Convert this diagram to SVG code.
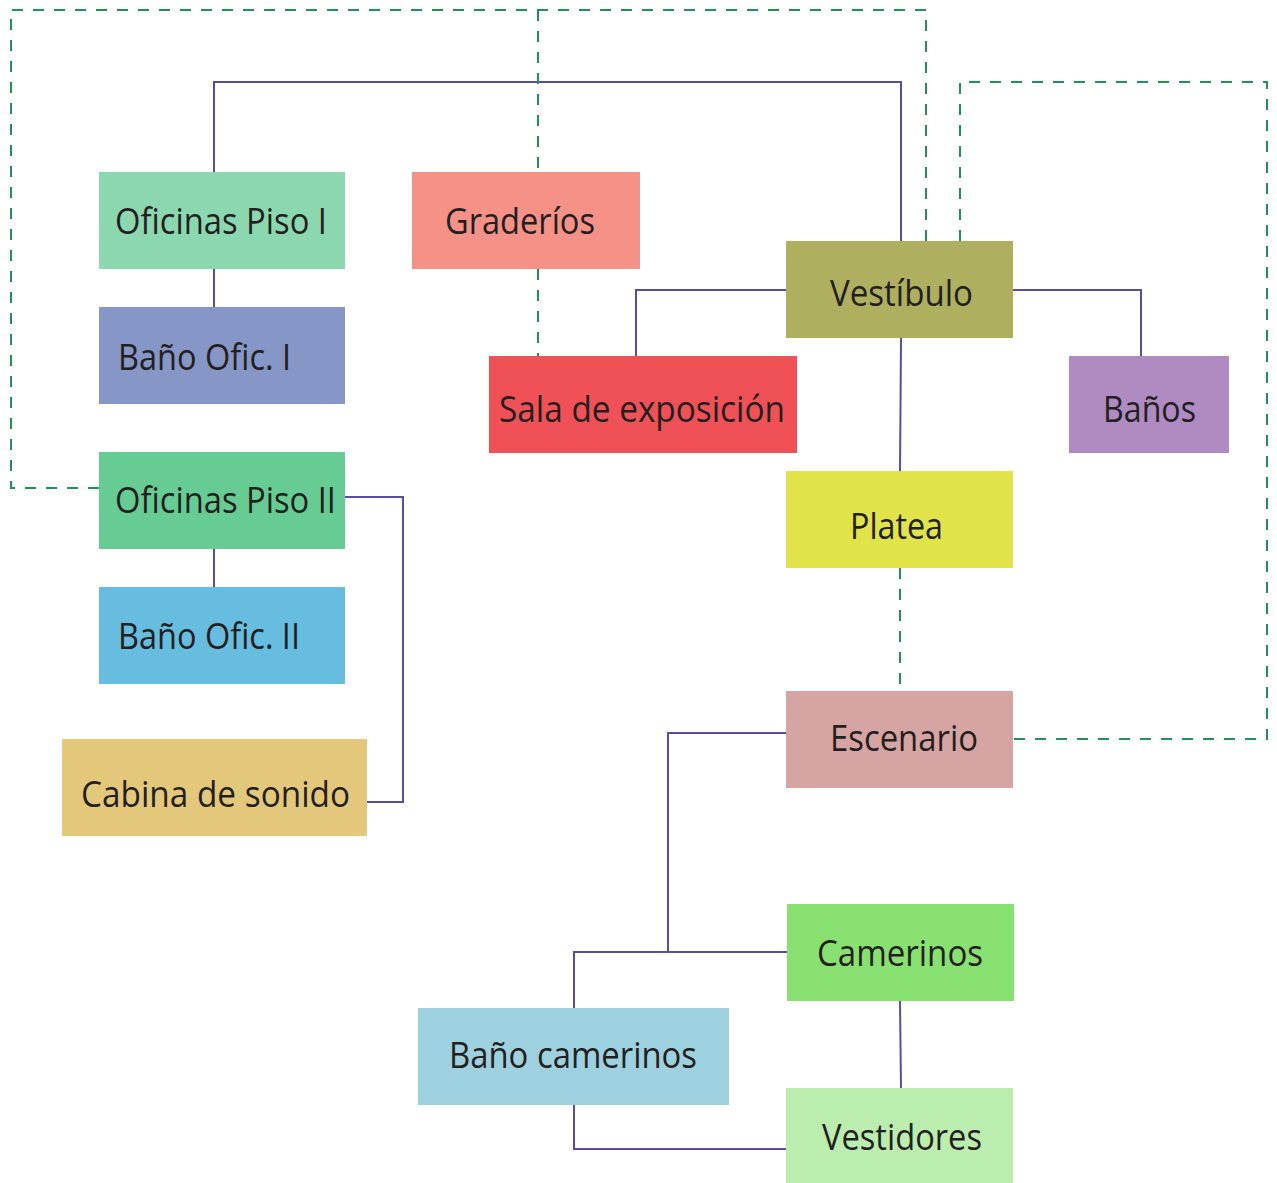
<svg xmlns="http://www.w3.org/2000/svg" width="1277" height="1183" viewBox="0 0 1277 1183">
<style>
.lbl{font-family:"Open Sans","Noto Sans","Liberation Sans",sans-serif;font-size:36px;fill:#231f20;text-anchor:middle}
.c{fill:none;stroke:#5a4ca3;stroke-width:2}
.d{fill:none;stroke:#238f5b;stroke-width:2;stroke-dasharray:11 10}
</style>
<rect width="1277" height="1183" fill="#ffffff"/>
<g id="connectors">
<polyline class="c" points="214,172 214,82 901,82 901,241"/>
<line class="c" x1="214" y1="269" x2="214" y2="307"/>
<polyline class="c" points="786,290 636,290 636,356"/>
<polyline class="c" points="1013,290 1141,290 1141,356"/>
<line class="c" x1="901" y1="338" x2="900" y2="471"/>
<polyline class="c" points="345,497 403,497 403,802 367,802"/>
<line class="c" x1="214" y1="549" x2="214" y2="587"/>
<polyline class="c" points="786,733 668,733 668,952"/>
<polyline class="c" points="787,952 574,952 574,1008"/>
<line class="c" x1="900" y1="1001" x2="901" y2="1088"/>
<polyline class="c" points="574,1105 574,1149 786,1149"/>
<polyline class="d" points="99,488 11,488 11,10 926,10 926,241"/>
<line class="d" x1="538" y1="10" x2="538" y2="172"/>
<line class="d" x1="538" y1="269" x2="538" y2="356"/>
<polyline class="d" points="960,241 960,82 1267,82 1267,739 1013,739"/>
<line class="d" x1="900" y1="568" x2="900" y2="691"/>
</g>
<g id="n-oficinas1"><rect x="99" y="172" width="246" height="97" fill="#8bd7b0"/><text class="lbl" x="221" y="234" textLength="212" lengthAdjust="spacingAndGlyphs">Oficinas Piso I</text></g>
<g id="n-graderios"><rect x="412" y="172" width="228" height="97" fill="#f59187"/><text class="lbl" x="520" y="234" textLength="150" lengthAdjust="spacingAndGlyphs">Graderíos</text></g>
<g id="n-vestibulo"><rect x="786" y="241" width="227" height="97" fill="#afaf60"/><text class="lbl" x="901.5" y="306" textLength="143" lengthAdjust="spacingAndGlyphs">Vestíbulo</text></g>
<g id="n-banoofic1"><rect x="99" y="307" width="246" height="97" fill="#8696c6"/><text class="lbl" x="204.5" y="370" textLength="173" lengthAdjust="spacingAndGlyphs">Baño Ofic. I</text></g>
<g id="n-sala"><rect x="489" y="356" width="308" height="97" fill="#f05157"/><text class="lbl" x="642" y="422" textLength="286" lengthAdjust="spacingAndGlyphs">Sala de exposición</text></g>
<g id="n-banos"><rect x="1069" y="356" width="160" height="97" fill="#af8bc2"/><text class="lbl" x="1149.5" y="422" textLength="93" lengthAdjust="spacingAndGlyphs">Baños</text></g>
<g id="n-oficinas2"><rect x="99" y="452" width="246" height="97" fill="#66cc94"/><text class="lbl" x="225.5" y="513" textLength="221" lengthAdjust="spacingAndGlyphs">Oficinas Piso II</text></g>
<g id="n-platea"><rect x="786" y="471" width="227" height="97" fill="#e1e34a"/><text class="lbl" x="896.5" y="539" textLength="93" lengthAdjust="spacingAndGlyphs">Platea</text></g>
<g id="n-banoofic2"><rect x="99" y="587" width="246" height="97" fill="#66bde0"/><text class="lbl" x="209" y="649" textLength="182" lengthAdjust="spacingAndGlyphs">Baño Ofic. II</text></g>
<g id="n-cabina"><rect x="62" y="739" width="305" height="97" fill="#e3c87b"/><text class="lbl" x="215.5" y="807" textLength="269" lengthAdjust="spacingAndGlyphs">Cabina de sonido</text></g>
<g id="n-escenario"><rect x="786" y="691" width="227" height="97" fill="#d6a5a3"/><text class="lbl" x="904" y="751" textLength="148" lengthAdjust="spacingAndGlyphs">Escenario</text></g>
<g id="n-camerinos"><rect x="787" y="904" width="227" height="97" fill="#88e070"/><text class="lbl" x="900" y="966" textLength="166" lengthAdjust="spacingAndGlyphs">Camerinos</text></g>
<g id="n-banocamerinos"><rect x="418" y="1008" width="311" height="97" fill="#9ed1df"/><text class="lbl" x="573" y="1068" textLength="248" lengthAdjust="spacingAndGlyphs">Baño camerinos</text></g>
<g id="n-vestidores"><rect x="786" y="1088" width="227" height="95" fill="#bbedaf"/><text class="lbl" x="902" y="1150" textLength="160" lengthAdjust="spacingAndGlyphs">Vestidores</text></g>
</svg>
